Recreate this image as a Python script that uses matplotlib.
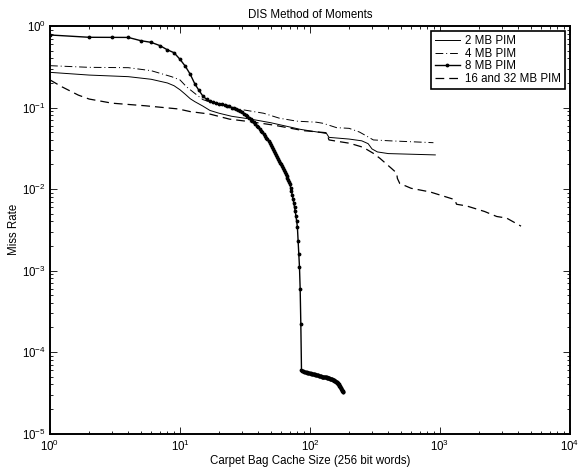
import matplotlib
matplotlib.use("Agg")
import matplotlib.pyplot as plt
import numpy as np
from matplotlib.lines import Line2D

plt.rcParams['font.family'] = ['Liberation Sans', 'DejaVu Sans']
plt.rcParams['mathtext.fontset'] = 'custom'
plt.rcParams['mathtext.rm'] = 'Liberation Sans'
plt.rcParams['mathtext.it'] = 'Liberation Sans:italic'
plt.rcParams['mathtext.bf'] = 'Liberation Sans:bold'

FS = 8.3

# 2 MB PIM (solid)
x_2mb = [1, 2, 4, 6, 8, 9, 10, 11, 12, 13, 15, 17, 20, 25, 35, 50, 84, 134, 140,
         200, 250, 280, 300, 330, 400, 920]
y_2mb = [0.27, 0.25, 0.239, 0.222, 0.20, 0.185, 0.165, 0.145, 0.128, 0.118, 0.104,
         0.092, 0.085, 0.078, 0.072, 0.065, 0.054, 0.048, 0.043, 0.041, 0.039,
         0.036, 0.031, 0.0285, 0.0272, 0.0262]

# 4 MB PIM (dash-dot)
x_4mb = [1, 2, 4, 6, 8.6, 10, 11.2, 13, 15, 19, 29, 44, 58, 79, 112, 126, 160,
         200, 240, 270, 307, 412, 890]
y_4mb = [0.326, 0.311, 0.308, 0.283, 0.239, 0.218, 0.18, 0.149, 0.125, 0.11, 0.095,
         0.085, 0.074, 0.068, 0.066, 0.064, 0.0566, 0.0555, 0.050, 0.045, 0.040,
         0.039, 0.037]

# 8 MB PIM (solid with dots), one sample per cache size 1..180
y_8mb = [
    0.776, 0.727, 0.725, 0.724, 0.66, 0.63, 0.575, 0.51, 0.47, 0.39,
    0.32, 0.255, 0.195, 0.162, 0.138, 0.126, 0.119, 0.116, 0.113, 0.111,
    0.109, 0.107, 0.105, 0.103, 0.100, 0.098, 0.096, 0.093, 0.090, 0.087,
    0.084, 0.081, 0.078, 0.075, 0.072, 0.069, 0.066, 0.063, 0.060, 0.057,
    0.0545, 0.052, 0.0495, 0.047, 0.0445, 0.042, 0.0405, 0.039, 0.037, 0.035,
    0.033, 0.031, 0.0295, 0.028, 0.0265, 0.025, 0.0235, 0.022, 0.021, 0.020,
    0.019, 0.018, 0.017, 0.016, 0.0152, 0.0145, 0.0137, 0.0130, 0.0122, 0.0114,
    0.0104, 0.0094, 0.0085, 0.0076, 0.0068, 0.0060, 0.0053, 0.0046, 0.0040, 0.0034,
    0.0023, 0.0016, 0.0011, 0.0006, 0.00022, 6.0e-5, 5.9e-5, 5.85e-5, 5.8e-5, 5.75e-5,
    5.7e-5, 5.68e-5, 5.65e-5, 5.62e-5, 5.6e-5, 5.57e-5, 5.55e-5, 5.52e-5, 5.5e-5, 5.48e-5,
    5.46e-5, 5.44e-5, 5.42e-5, 5.4e-5, 5.38e-5, 5.36e-5, 5.34e-5, 5.32e-5, 5.3e-5, 5.28e-5,
    5.26e-5, 5.24e-5, 5.22e-5, 5.2e-5, 5.18e-5, 5.15e-5, 5.12e-5, 5.1e-5, 5.08e-5, 5.06e-5,
    5.04e-5, 5.02e-5, 5.0e-5, 4.98e-5, 4.97e-5, 4.96e-5, 4.95e-5, 4.94e-5, 4.93e-5, 4.92e-5,
    4.91e-5, 4.9e-5, 4.89e-5, 4.88e-5, 4.86e-5, 4.84e-5, 4.82e-5, 4.8e-5, 4.78e-5, 4.76e-5,
    4.74e-5, 4.72e-5, 4.7e-5, 4.68e-5, 4.66e-5, 4.64e-5, 4.62e-5, 4.6e-5, 4.57e-5, 4.55e-5,
    4.52e-5, 4.5e-5, 4.47e-5, 4.45e-5, 4.42e-5, 4.4e-5, 4.37e-5, 4.34e-5, 4.3e-5, 4.27e-5,
    4.23e-5, 4.19e-5, 4.15e-5, 4.1e-5, 4.05e-5, 4.0e-5, 3.95e-5, 3.88e-5, 3.82e-5, 3.76e-5,
    3.7e-5, 3.64e-5, 3.58e-5, 3.52e-5, 3.46e-5, 3.41e-5, 3.36e-5, 3.31e-5, 3.27e-5, 3.22e-5,
]
x_8mb = list(range(1, len(y_8mb) + 1))

# 16 and 32 MB PIM (dashed)
x_16mb = [1, 1.23, 1.65, 2, 3, 5.4, 9.7, 12, 17, 24, 34.5, 52, 89, 134, 140, 170,
          202, 256, 307, 346, 425, 464, 470, 490, 600, 840, 1300, 1340, 1600, 2200,
          2730, 3250, 4200]
y_16mb = [0.218, 0.18, 0.142, 0.127, 0.113, 0.105, 0.096, 0.089, 0.083, 0.072,
          0.067, 0.061, 0.052, 0.049, 0.040, 0.038, 0.0364, 0.0325, 0.0274, 0.0237,
          0.0178, 0.0157, 0.0135, 0.0117, 0.0102, 0.0092, 0.0074, 0.0065, 0.0062,
          0.0053, 0.0046, 0.0044, 0.0035]

labels = ['2 MB PIM', '4 MB PIM', '8 MB PIM', '16 and 32 MB PIM']

fig = plt.figure(figsize=(5.84, 4.68), dpi=100)
ax = fig.add_axes([50 / 584, 1 - 433.5 / 468, 520 / 584, 407.5 / 468])

ax.plot(x_2mb, y_2mb, color='black', lw=0.7, ls='-')
ax.plot(x_4mb, y_4mb, color='black', lw=0.7, ls=(0, (8, 3, 1, 3)))
ax.plot(x_8mb, y_8mb, color='black', lw=1.0, ls='-', marker='.', markersize=3.5)
ax.plot(x_16mb, y_16mb, color='black', lw=0.9, ls=(0, (7, 4)))

ax.set_xscale('log')
ax.set_yscale('log')
ax.set_xlim(1, 1e4)
ax.set_ylim(1e-5, 1)

ax.tick_params(which='both', direction='in', top=True, right=True, labelsize=FS, width=0.6)
ax.tick_params(which='major', length=5)
ax.tick_params(which='minor', length=2.5)
ax.tick_params(axis='x', which='major', pad=3.5)
ax.tick_params(axis='y', which='major', pad=3)
for s in ax.spines.values():
    s.set_linewidth(1.4)

ax.set_title('DIS Method of Moments', fontsize=FS, pad=6)
ax.set_xlabel('Carpet Bag Cache Size (256 bit words)', fontsize=FS)
ax.set_ylabel('Miss Rate', fontsize=FS)
ax.xaxis.set_label_coords(0.5, -0.053)
ax.yaxis.set_label_coords(-0.058, 0.5)

handles = [
    Line2D([0], [0], color='black', lw=0.7, ls='-'),
    Line2D([0], [0], color='black', lw=0.7, ls=(0, (8, 3, 1, 3))),
    Line2D([0], [0], color='black', lw=1.0, ls='-', marker='.', markersize=3.5),
    Line2D([0], [0], color='black', lw=0.9, ls=(0, (7, 4))),
]
leg = ax.legend(handles, labels, loc='upper right', fontsize=FS, frameon=True,
                fancybox=False, framealpha=1, edgecolor='black',
                borderaxespad=0.45, handlelength=2.1, handletextpad=0.45,
                labelspacing=0.05, borderpad=0.35)
leg.get_frame().set_linewidth(1.2)

fig.savefig('out.png', dpi=100)
